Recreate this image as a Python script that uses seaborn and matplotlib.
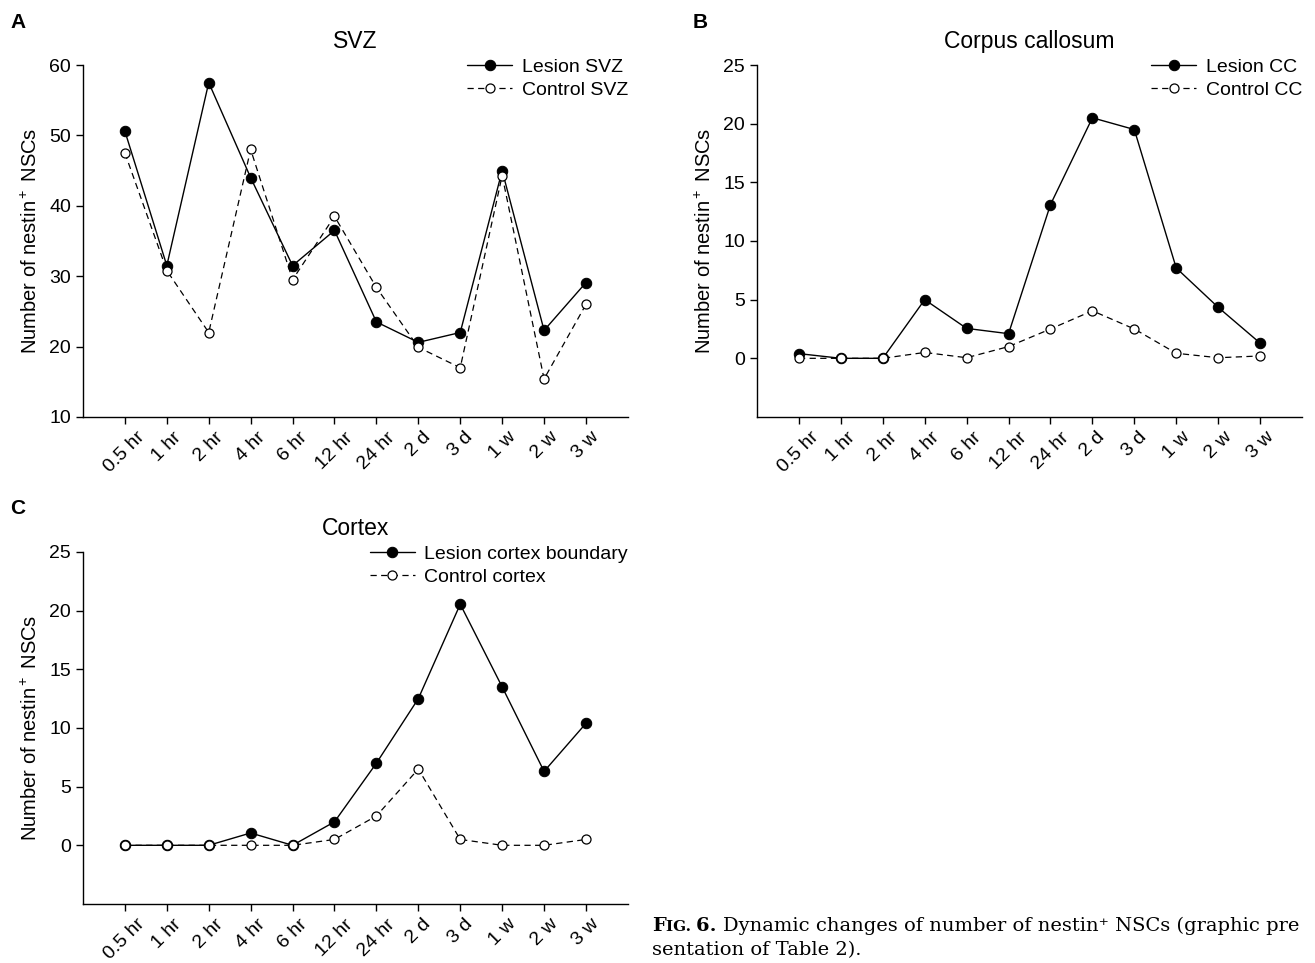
import numpy as np
import pandas as pd
import matplotlib
matplotlib.use('Agg')
import matplotlib.pyplot as plt
import seaborn as sns

# time points (x axis)
time_labels = ['0.5 hr', '1 hr', '2 hr', '4 hr', '6 hr', '12 hr',
               '24 hr', '2 d', '3 d', '1 w', '2 w', '3 w']

# A. SVZ
svz_lesion = [50.6, 31.5, 57.5, 44.0, 31.5, 36.5, 23.5, 20.6, 22.0, 45.0, 22.3, 29.1]
svz_control = [47.5, 30.8, 22.0, 48.0, 29.5, 38.5, 28.4, 19.9, 17.0, 44.3, 15.4, 26.0]

# B. Corpus callosum
cc_lesion = [0.4, 0.0, 0.0, 5.0, 2.55, 2.1, 13.1, 20.5, 19.5, 7.7, 4.35, 1.3]
cc_control = [0.0, 0.0, 0.0, 0.5, 0.05, 1.0, 2.5, 4.05, 2.5, 0.43, 0.05, 0.2]

# C. Cortex
cortex_lesion = [0.0, 0.0, 0.0, 1.05, 0.0, 2.0, 7.0, 12.5, 20.55, 13.5, 6.3, 10.4]
cortex_control = [0.0, 0.0, 0.0, 0.0, 0.0, 0.5, 2.5, 6.5, 0.5, 0.0, 0.0, 0.5]

sns.set_style('ticks')
plt.rcParams['font.family'] = ['Liberation Sans', 'DejaVu Sans']
plt.rcParams['mathtext.fontset'] = 'custom'
plt.rcParams['mathtext.rm'] = 'Liberation Sans'
plt.rcParams['mathtext.it'] = 'Liberation Sans:italic'
plt.rcParams['mathtext.bf'] = 'Liberation Sans:bold'
for key in ['text.color', 'axes.labelcolor', 'xtick.color', 'ytick.color']:
    plt.rcParams[key] = 'black'

YLABEL = 'Number of nestin$^+$ NSCs'


def draw_panel(ax, lesion, control, title, lesion_name, control_name, ylim, yticks):

    """
    One panel: lesion (filled, solid) vs control (open, dashed).
    """

    df = pd.DataFrame({
        'pos': np.arange(len(time_labels)),
        'lesion': lesion,
        'control': control,
    })

    sns.lineplot(
        data=df, x='pos', y='lesion', ax=ax,
        color='black', linewidth=1.0,
        marker='o', markersize=7.5,
        markerfacecolor='black', markeredgecolor='black',
        label=lesion_name
    )

    sns.lineplot(
        data=df, x='pos', y='control', ax=ax,
        color='black', linewidth=0.9, linestyle=(0, (5, 3.5)),
        marker='o', markersize=6.5, markeredgewidth=0.9,
        markerfacecolor='white', markeredgecolor='black',
        label=control_name
    )

    ax.set_xlim(-1, 12)
    ax.set_ylim(*ylim)
    ax.set_yticks(yticks)
    ax.set_xticks(np.arange(len(time_labels)))
    ax.set_xticklabels(time_labels, rotation=45, ha='center', fontsize=14)
    ax.tick_params(axis='y', labelsize=14)
    ax.tick_params(direction='out', length=5, width=1.0, color='black')

    ax.set_xlabel('')
    ax.set_ylabel(YLABEL, fontsize=14.5, labelpad=6)
    ax.set_title(title, fontsize=16.5, pad=12)

    for side in ['left', 'bottom']:
        ax.spines[side].set_linewidth(1.0)
        ax.spines[side].set_color('black')
    sns.despine(ax=ax)

    ax.legend(
        loc='upper right', bbox_to_anchor=(1.0, 1.02),
        frameon=False, fontsize=14,
        handlelength=2.3, handletextpad=0.5,
        labelspacing=0.3, borderpad=0, borderaxespad=0
    )


fig = plt.figure(figsize=(13.15, 9.63), dpi=100)

ax_a = fig.add_axes([0.0631, 0.5670, 0.4144, 0.3655])
ax_b = fig.add_axes([0.5757, 0.5670, 0.4144, 0.3655])
ax_c = fig.add_axes([0.0631, 0.0613, 0.4144, 0.3655])

draw_panel(ax_a, svz_lesion, svz_control, 'SVZ',
           'Lesion SVZ', 'Control SVZ', (10, 60), [10, 20, 30, 40, 50, 60])
draw_panel(ax_b, cc_lesion, cc_control, 'Corpus callosum',
           'Lesion CC', 'Control CC', (-5, 25), [0, 5, 10, 15, 20, 25])
draw_panel(ax_c, cortex_lesion, cortex_control, 'Cortex',
           'Lesion cortex boundary', 'Control cortex', (-5, 25), [0, 5, 10, 15, 20, 25])

# panel letters
for letter, x, y in [('A', 0.008, 0.977), ('B', 0.527, 0.977), ('C', 0.008, 0.472)]:
    fig.text(x, y, letter, fontsize=15, fontweight='bold', va='center', ha='left')

# caption
serif = ['DejaVu Serif']
renderer = fig.canvas.get_renderer()
x0, y1, y2 = 652 / 1315, 1 - 931 / 963, 1 - 955 / 963
parts = [
    ('F', 14, 'bold'),
    ('IG. ', 11, 'bold'),
    ('6. ', 14, 'bold'),
    ('Dynamic changes of number of nestin\u207a NSCs (graphic pre', 14, 'normal'),
]
x = x0
for txt, size, weight in parts:
    t = fig.text(x, y1, txt, fontsize=size, fontweight=weight,
                 family=serif, va='baseline', ha='left')
    bb = t.get_window_extent(renderer=renderer)
    x = bb.x1 / fig.bbox.width
fig.text(x0, y2, 'sentation of Table 2).', fontsize=14,
         family=serif, va='baseline', ha='left')

fig.savefig('out.png', dpi=100)
